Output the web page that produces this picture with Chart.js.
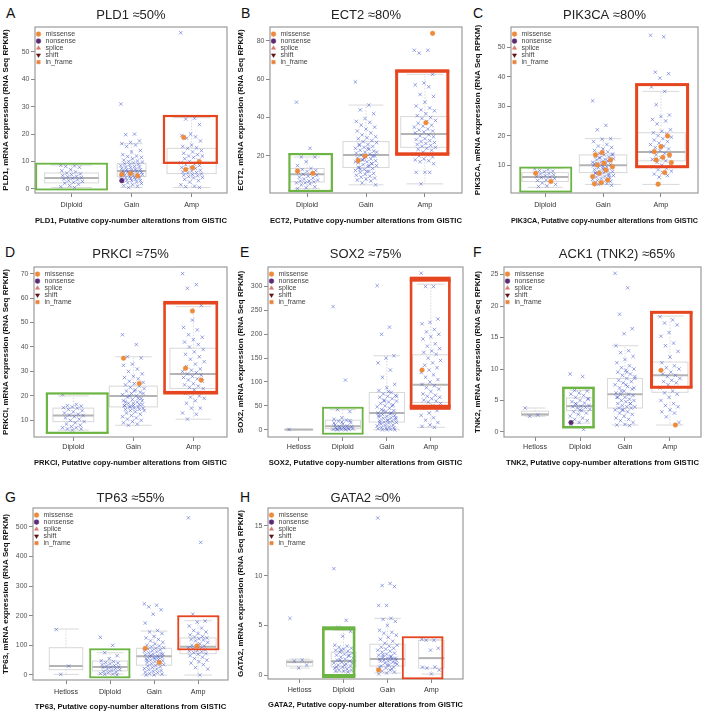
<!DOCTYPE html>
<html>
<head>
<meta charset="utf-8">
<title>mRNA expression by putative copy-number alteration</title>
<script src="https://cdn.jsdelivr.net/npm/chart.js@4.4.1/dist/chart.umd.min.js"></script>
<style>
  html, body { margin: 0; padding: 0; background: #fff; }
  body { position: relative; width: 710px; height: 718px; overflow: hidden; font-family: "Liberation Sans", Arial, sans-serif; }
  canvas { position: absolute; }
  .tag { position: absolute; font-size: 14px; line-height: 14px; color: #111; }
</style>
</head>
<body>
<div class="tag" style="left:6px;top:6px">A</div>
<div class="tag" style="left:241px;top:6px">B</div>
<div class="tag" style="left:473px;top:6px">C</div>
<div class="tag" style="left:5px;top:245px">D</div>
<div class="tag" style="left:240px;top:245px">E</div>
<div class="tag" style="left:473px;top:245px">F</div>
<div class="tag" style="left:5px;top:490px">G</div>
<div class="tag" style="left:240px;top:490px">H</div>
<canvas id="cA"></canvas>
<canvas id="cB"></canvas>
<canvas id="cC"></canvas>
<canvas id="cD"></canvas>
<canvas id="cE"></canvas>
<canvas id="cF"></canvas>
<canvas id="cG"></canvas>
<canvas id="cH"></canvas>
<script>
var FONT = "'Liberation Sans', Arial, Helvetica, sans-serif";
Chart.defaults.font.family = FONT;
Chart.defaults.animation = false;

var cats3 = ['Diploid', 'Gain', 'Amp'];
var cats4 = ['Hetloss', 'Diploid', 'Gain', 'Amp'];
var mutTypes = ['missense', 'nonsense', 'splice', 'shift', 'in_frame'];

// A - PLD1
var pld1Vals = [
  [8.6, 8.4, 8.2, 7.9, 7.0, 6.6, 6.2, 5.8, 5.5, 5.2, 4.9, 4.6, 4.4, 4.1, 3.9, 3.6, 3.3, 3.0, 2.7, 2.4, 2.1, 1.7, 1.2, 0.8, 0.5],
  [31, 20, 19.8, 17.5, 17, 16.5, 16, 15.5, 14, 13.5, 12.5, 12, 11.8, 11.5, 11, 10.5, 10.2, 10, 9.8, 9.5, 9.2, 9, 8.8, 8.5, 8.2, 8, 8, 7.8, 7.5, 7.2, 7, 7, 6.8, 6.5, 6.5, 6.2, 6, 6, 5.8, 5.5, 5.5, 5.2, 5, 5, 4.8, 4.5, 4.5, 4.2, 4, 4, 3.8, 3.5, 3.5, 3.2, 3, 3, 2.8, 2.5, 2.2, 2, 1.5, 1.2, 1, 0.5],
  [57, 25.8, 25.5, 23.5, 20, 19.5, 19, 18.5, 17.5, 16, 15.5, 15, 14.8, 14, 13.5, 13, 12.5, 12, 12, 11.5, 11, 10.5, 10, 9.5, 9, 8.8, 8.5, 8, 7.8, 7.5, 7, 6.8, 6.5, 6.2, 6, 5.8, 5.5, 5.2, 5, 4.8, 4.5, 4.2, 4, 3.5, 3, 2.5, 1.5, 1, 0.8, 0.5]
];
var pld1Boxes = [[0.5, 2.2, 4.0, 5.8, 8.7], [0.5, 4.5, 6.5, 9.3, 16.5], [0.5, 5.6, 9.5, 14.8, 26]];
var pld1Ticks = [0, 10, 20, 30, 40, 50];
var pld1Mis = [[1, 5.3], [1, 4.8], [1, 5.6], [2, 18.8], [2, 9.9], [2, 7.7], [2, 7.1]];
var pld1Non = [[1, 3.0]];
var pld1Hi = [[0, -0.2, 9.2], [2, 9.5, 26.6]];

// B - ECT2
var ect2Vals = [
  [48, 24, 19.5, 19.5, 17, 15, 13.5, 13, 12.5, 12, 11.5, 11, 10.5, 10, 9.5, 9, 8.5, 8, 7.5, 7, 7, 6.5, 6, 6, 5.5, 5, 4, 3.5, 3],
  [58.5, 46.5, 44, 42, 39.5, 38, 37.5, 36, 35, 34, 33, 32, 31, 30, 29.5, 29, 28, 27.5, 27, 26, 25.5, 25, 24.5, 24, 23.5, 23, 22.5, 22, 21.5, 21, 20.5, 20, 19.5, 19, 18.5, 18, 17.5, 17, 16.5, 16, 15.5, 15, 14.5, 14, 13.5, 13, 12.5, 12, 11.5, 11, 10.5, 10, 9.5, 9, 8.5, 8, 7.5, 7, 6, 5, 12, 14, 16, 18, 22, 24, 26, 20, 19, 17, 15, 13],
  [75, 75, 73.5, 62.5, 58, 57, 56, 52, 51, 48, 46, 45, 44, 43.5, 42, 41, 40, 39.5, 38.5, 38, 37, 36, 35.5, 35, 34, 33.5, 33, 32.5, 32, 31, 30.5, 30, 29, 28.5, 28, 27.5, 27, 26.5, 26, 25.5, 25, 24.5, 24, 23.5, 23, 22, 21, 20.5, 20, 19.5, 18.5, 18, 17.5, 17, 16, 11.5, 11.5, 11.5, 5.5]
];
var ect2Boxes = [[3, 6.5, 10.5, 13.5, 19.5], [5, 14, 20.5, 27.5, 46.5], [5.5, 24.5, 31.5, 40.5, 62.5]];
var ect2Ticks = [20, 40, 60, 80];
var ect2Mis = [[0, 12.2], [0, 11], [1, 20], [1, 17.6], [2, 83.8], [2, 37.3]];
var ect2Non = [];
var ect2Hi = [[0, 1.8, 21], [2, 21, 64.2]];

// C - PIK3CA
var pik3caVals = [
  [8.8, 8.5, 8.2, 8, 7.8, 7.5, 7.2, 7, 6.8, 6.5, 6.2, 6, 5.8, 5.5, 5, 4.8, 4.5, 4, 3.5, 3, 2.8],
  [31.8, 23.5, 22, 19, 18.8, 18, 17, 16.5, 16, 15.5, 15, 14.5, 14, 13.8, 13.5, 13, 12.8, 12.5, 12.2, 12, 11.8, 11.5, 11.2, 11, 10.8, 10.5, 10.2, 10, 9.8, 9.5, 9.2, 9, 8.8, 8.5, 8.2, 8, 7.8, 7.5, 7.2, 7, 6.8, 6.5, 6.2, 6, 5.8, 5.5, 5.2, 5, 4.8, 4.5, 4.2, 4, 3.8, 3.5, 3.2, 9.5, 10.5, 11.5, 12.5, 13.5, 8.5, 7.5, 6.5],
  [54, 53.5, 41.5, 41, 39.5, 36.5, 35, 30.5, 27, 26.5, 25.5, 25, 24, 22, 21.5, 21, 20.5, 20, 19.5, 19, 18.5, 18, 17.5, 17, 16.5, 16, 15.5, 15, 14.5, 14, 13.5, 13, 12.5, 12, 11.5, 11, 10.5, 10, 9.5, 9, 8.5, 8, 7.5, 7, 6.5, 6]
];
var pik3caBoxes = [[2.5, 4.5, 6, 7.5, 9], [3.5, 7.5, 10, 13.5, 19], [3.5, 11.5, 14.5, 21, 35]];
var pik3caTicks = [10, 20, 30, 40, 50];
var pik3caMis = [[0, 7.3], [0, 4.5], [1, 14.3], [1, 13.5], [1, 11.8], [1, 10.7], [1, 10.1], [1, 9.5], [1, 8.4], [1, 7.3], [1, 6.2], [1, 5.0], [1, 4.1], [1, 3.7],
  [2, 19.9], [2, 16.3], [2, 14.6], [2, 13.5], [2, 12.7], [2, 11.8], [2, 10.9], [2, 7.5], [2, 3.6]];
var pik3caNon = [];
var pik3caHi = [[0, 1.1, 9.2], [2, 9.5, 37.3]];

// D - PRKCI
var prkciVals = [
  [20.5, 16.5, 16, 15.8, 15.5, 15.2, 15, 14.5, 14, 13.5, 13, 12.5, 12.2, 12, 11.5, 11, 10.5, 10, 9.5, 9, 8.5, 8, 7.5, 7, 7, 6.5, 6.5, 6],
  [45, 41, 36, 35.5, 33, 32.5, 31, 30, 29, 28, 27.5, 27, 26, 25.5, 25, 24.5, 24, 23.5, 23, 22.5, 22, 21.5, 21, 20.5, 20, 19.5, 19, 18.5, 18, 17.5, 17, 16.5, 16, 16, 15.5, 15.5, 15, 15, 14.5, 14.5, 14, 14, 13.5, 13, 12.5, 12, 11.5, 11, 10.5, 10, 9.5, 9, 8.5, 8, 18, 17, 16, 19, 20, 21, 22, 17.5, 16.5, 15.5],
  [70, 65.5, 64, 57, 51, 48, 47, 45, 44, 43, 42, 41, 40, 39, 38, 37, 36, 35, 34, 33, 32, 31, 30.5, 30, 29.5, 29, 28.5, 28, 27.5, 27, 26.5, 26, 25, 24.5, 24, 23.5, 23, 22.5, 21, 20, 19.5, 19, 18, 17, 15, 15, 13, 12.5, 10.5]
];
var prkciBoxes = [[6, 9.5, 12, 15, 20], [8, 15.5, 20, 24, 36], [10.5, 23, 29, 39.5, 56.5]];
var prkciTicks = [10, 20, 30, 40, 50, 60, 70];
var prkciMis = [[1, 35.4], [1, 25.1], [2, 54.7], [2, 31.3], [2, 26.5]];
var prkciNon = [];
var prkciHi = [[0, 4.9, 21], [2, 21.3, 58.1]];

// E - SOX2
var sox2Vals = [
  [0.5],
  [258, 104, 42, 38, 25, 22, 20, 18, 15, 12, 10, 8, 7, 6, 5, 4, 3, 3, 2, 2, 1, 1, 0.5, 0.5, 0, 0, 19, 16, 14],
  [302, 215, 200, 155, 150, 140, 125, 110, 95, 88, 82, 78, 75, 72, 70, 68, 65, 62, 60, 58, 55, 52, 50, 48, 45, 42, 40, 38, 35, 33, 32, 30, 28, 27, 25, 24, 22, 20, 19, 18, 16, 15, 14, 12, 10, 9, 8, 6, 5, 4, 3, 2, 1, 0, 0, 0, 30, 35, 40, 25, 20, 15, 50, 60, 70, 80],
  [328, 300, 300, 232, 225, 222, 210, 205, 200, 195, 190, 180, 175, 170, 165, 162, 158, 150, 145, 140, 135, 130, 125, 120, 115, 110, 105, 100, 95, 92, 88, 85, 80, 75, 72, 70, 68, 65, 62, 60, 58, 55, 50, 45, 40, 35, 30, 25, 20, 15, 10, 7, 5]
];
var sox2Boxes = [[0, 0, 0.3, 0.6, 0.6], [0, 2, 7, 20, 42], [0, 16, 35, 78, 155], [5, 57, 94, 157, 305]];
var sox2Ticks = [0, 50, 100, 150, 200, 250, 300];
var sox2Mis = [[3, 125]];
var sox2Non = [];
var sox2Hi = [[1, -8.4, 46], [3, 47, 315.5]];

// F - ACK1 (TNK2)
var tnk2Vals = [
  [3.8, 2.7, 2.5],
  [9.2, 8.8, 6.6, 6.5, 6.2, 6, 5.8, 5.5, 5.3, 5, 4.8, 4.6, 4.4, 4.2, 4.1, 4, 3.9, 3.8, 3.6, 3.4, 3.2, 3, 2.8, 2.5, 2.2, 2, 1.8, 1.5, 1.2, 0.4, 4.5, 5.2, 3.5],
  [25.2, 22.9, 18.7, 16.4, 15.6, 13.7, 12.9, 12.6, 12, 11.5, 11, 10.5, 10.2, 10, 9.8, 9.5, 9.2, 9, 8.8, 8.5, 8.2, 8, 7.8, 7.5, 7.2, 7, 6.8, 6.5, 6.2, 6, 6, 5.8, 5.5, 5.5, 5.2, 5, 5, 4.8, 4.5, 4.5, 4.2, 4, 4, 3.8, 3.8, 3.5, 3.5, 3.2, 3, 2.8, 2.5, 2.2, 2, 1.8, 1.5, 1.2, 1.1, 1, 6.5, 7, 7.5, 5.5, 4.5, 3.5, 8.5, 9.5],
  [18.3, 17.8, 17.3, 17, 15.8, 15.2, 14.1, 13.7, 12.8, 11.9, 11, 10.5, 10.2, 10, 9.5, 9.2, 9, 8.8, 8.5, 8.2, 8, 7.8, 7.5, 7, 6.5, 6.2, 6, 5.5, 5, 4.5, 4.2, 4, 3.5, 3.2, 3, 2.4, 1.5]
];
var tnk2Boxes = [[2.5, 2.6, 2.8, 3.3, 3.8], [1.4, 3.4, 4.1, 5.4, 6.6], [1.1, 3.8, 6, 8.5, 13.7], [1.1, 6.3, 9, 11.1, 18.4]];
var tnk2Ticks = [0, 5, 10, 15, 20, 25];
var tnk2Mis = [[3, 9.8], [3, 1.1]];
var tnk2Non = [[1, 1.5]];
var tnk2Hi = [[1, 0.75, 7.0], [3, 7.1, 19.0]];

// G - TP63
var tp63Vals = [
  [153, 30, 2],
  [127, 100, 75, 65, 55, 48, 45, 42, 40, 38, 35, 32, 30, 28, 26, 25, 22, 20, 18, 15, 12, 10, 8, 5, 3, 2, 0],
  [240, 235, 230, 220, 205, 175, 150, 145, 140, 130, 125, 120, 115, 110, 105, 100, 98, 95, 92, 90, 88, 85, 82, 80, 78, 75, 72, 70, 68, 65, 62, 60, 58, 55, 52, 50, 48, 45, 42, 40, 38, 35, 32, 30, 28, 25, 22, 20, 18, 15, 12, 10, 8, 5, 3, 0, 0, 60, 65, 70, 55, 50, 45],
  [530, 447, 205, 182, 178, 165, 158, 150, 145, 140, 135, 130, 128, 125, 122, 120, 118, 115, 110, 105, 100, 98, 95, 92, 90, 88, 85, 82, 80, 78, 75, 72, 70, 65, 60, 55, 50, 45, 40, 35, 25, 20, 0]
];
var tp63Boxes = [[2, 18, 30, 92, 155], [3, 14, 27, 47, 75], [0, 33, 63, 90, 148], [0, 72, 95, 125, 183]];
var tp63Ticks = [0, 100, 200, 300, 400, 500];
var tp63Mis = [[2, 90], [2, 42], [3, 98]];
var tp63Non = [];
var tp63Hi = [[1, -7.8, 86.6], [3, 86.6, 198]];

// H - GATA2
var gata2Vals = [
  [5.7, 1.5, 1.4, 1.0, 0.7],
  [10.7, 5.5, 4.8, 4.4, 3.9, 3.0, 2.9, 2.8, 2.7, 2.6, 2.5, 2.4, 2.3, 2.2, 2.1, 2.0, 1.9, 1.8, 1.7, 1.6, 1.5, 1.4, 1.3, 1.2, 1.1, 1.0, 0.9, 0.8, 0.7, 0.6, 0.5, 0.5, 0.4, 0.4, 0.3, 1.5, 1.2, 1.0, 0.8, 2.0, 2.5],
  [15.8, 9.2, 9.0, 8.9, 7.0, 7.0, 5.7, 5.6, 5.4, 5.0, 4.5, 4.3, 4.2, 4.0, 3.8, 3.6, 3.4, 3.2, 3.0, 2.9, 2.8, 2.7, 2.6, 2.5, 2.4, 2.3, 2.2, 2.1, 2.0, 1.9, 1.8, 1.7, 1.7, 1.6, 1.6, 1.5, 1.5, 1.4, 1.4, 1.3, 1.2, 1.1, 1.0, 0.9, 0.8, 0.7, 0.6, 0.5, 0.4, 0.3, 0.2, 0.1, 1.8, 2.0, 1.2, 1.0, 0.8, 0.6],
  [3.6, 3.5, 3.5, 2.7, 2.5, 0.8, 0.8, 0.7, 0.5, 0.1]
];
var gata2Boxes = [[0.7, 0.9, 1.3, 1.5, 1.6], [0.3, 0.8, 1.4, 2.3, 4.5], [0.2, 0.9, 1.6, 3.1, 5.7], [0.1, 0.7, 1.7, 3.5, 3.6]];
var gata2Ticks = [0, 5, 10, 15];
var gata2Mis = [[2, 0.5]];
var gata2Non = [];
var gata2Hi = [[1, -0.1, 4.7], [3, -0.33, 3.8]];

// marker styles
var mutStyle = [
  { pointStyle: 'circle', color: '#ee8b3b', rotation: 0 },
  { pointStyle: 'circle', color: '#5b2b74', rotation: 0 },
  { pointStyle: 'triangle', color: '#d9786c', rotation: 0 },
  { pointStyle: 'triangle', color: '#5e1212', rotation: 180 },
  { pointStyle: 'rect', color: '#e8843c', rotation: 0 }
];
var GREEN = '#6cb443', RED = '#e6461f';

// layout of each panel (absolute page pixels)
var panels = [
  { id: 'A', gene: 'PLD1', title: 'PLD1 \u224850%', cats: cats3, vals: pld1Vals, boxes: pld1Boxes, ticks: pld1Ticks, mis: pld1Mis, non: pld1Non, hi: pld1Hi,
    y: [-1.5, 59.1], x: [-0.61, 2.59], boxW: [0.45, 0.24, 0.41], spread: 0.36,
    hiX: [[-0.59, 0.59], [-0.46, 0.42]], hiLw: [[1.8, 1.8], [2.2, 2.2]],
    box: [0, 0, 235, 235], frame: [35, 27, 227, 193], titleY: 15, yTitleX: 6, catY: 205, xTitleY: 221 },
  { id: 'B', gene: 'ECT2', title: 'ECT2 \u224880%', cats: cats3, vals: ect2Vals, boxes: ect2Boxes, ticks: ect2Ticks, mis: ect2Mis, non: ect2Non, hi: ect2Hi,
    y: [0.75, 87.1], x: [-0.63, 2.63], boxW: [0.29, 0.39, 0.41], spread: 0.36,
    hiX: [[-0.3, 0.42], [-0.48, 0.39]], hiLw: [[2.2, 2.2], [3, 3.5]],
    box: [235, 0, 235, 235], frame: [270, 27, 462, 193], titleY: 15, yTitleX: 241, catY: 205, xTitleY: 221 },
  { id: 'C', gene: 'PIK3CA', title: 'PIK3CA \u224880%', cats: cats3, vals: pik3caVals, boxes: pik3caBoxes, ticks: pik3caTicks, mis: pik3caMis, non: pik3caNon, hi: pik3caHi,
    y: [0.6, 56.8], x: [-0.59, 2.64], boxW: [0.4, 0.41, 0.42], spread: 0.36,
    hiX: [[-0.43, 0.45], [-0.42, 0.46]], hiLw: [[1.8, 1.8], [3, 3]],
    box: [470, 0, 240, 235], frame: [511, 27, 698, 193], titleY: 15, yTitleX: 478, catY: 205, xTitleY: 221 },
  { id: 'D', gene: 'PRKCI', title: 'PRKCI \u224875%', cats: cats3, vals: prkciVals, boxes: prkciBoxes, ticks: prkciTicks, mis: prkciMis, non: prkciNon, hi: prkciHi,
    y: [3.2, 72.7], x: [-0.655, 2.56], boxW: [0.34, 0.4, 0.39], spread: 0.36,
    hiX: [[-0.44, 0.57], [-0.48, 0.39]], hiLw: [[2.2, 2.2], [2.6, 3.6]],
    box: [0, 235, 235, 240], frame: [34, 267, 227, 437], titleY: 254, yTitleX: 6, catY: 447, xTitleY: 463 },
  { id: 'E', gene: 'SOX2', title: 'SOX2 \u224875%', cats: cats4, vals: sox2Vals, boxes: sox2Boxes, ticks: sox2Ticks, mis: sox2Mis, non: sox2Non, hi: sox2Hi,
    y: [-15.3, 341], x: [-0.7, 3.73], boxW: [0.32, 0.4, 0.4, 0.42], spread: 0.44,
    hiX: [[-0.45, 0.45], [-0.45, 0.42]], hiLw: [[1.8, 1.8], [2.6, 5]],
    box: [235, 235, 235, 240], frame: [268, 267, 463, 437], titleY: 254, yTitleX: 241, catY: 447, xTitleY: 463 },
  { id: 'F', gene: 'TNK2', title: '        ACK1 (TNK2) \u224865%', cats: cats4, vals: tnk2Vals, boxes: tnk2Boxes, ticks: tnk2Ticks, mis: tnk2Mis, non: tnk2Non, hi: tnk2Hi,
    y: [-0.8, 26.2], x: [-0.69, 3.69], boxW: [0.3, 0.3, 0.39, 0.4], spread: 0.44,
    hiX: [[-0.37, 0.3], [-0.41, 0.47]], hiLw: [[2.5, 2.5], [3, 3]],
    box: [470, 235, 240, 240], frame: [504, 267, 701, 437], titleY: 254, yTitleX: 478, catY: 447, xTitleY: 463 },
  { id: 'G', gene: 'TP63', title: 'TP63 \u224855%', cats: cats4, vals: tp63Vals, boxes: tp63Boxes, ticks: tp63Ticks, mis: tp63Mis, non: tp63Non, hi: tp63Hi,
    y: [-16.9, 563], x: [-0.75, 3.68], boxW: [0.38, 0.4, 0.4, 0.41], spread: 0.44,
    hiX: [[-0.45, 0.44], [-0.45, 0.46]], hiLw: [[1.8, 1.8], [1.8, 1.8]],
    box: [0, 475, 235, 243], frame: [33, 508, 228, 680], titleY: 498, yTitleX: 6, catY: 692, xTitleY: 707 },
  { id: 'H', gene: 'GATA2', title: 'GATA2 \u22480%', cats: cats4, vals: gata2Vals, boxes: gata2Boxes, ticks: gata2Ticks, mis: gata2Mis, non: gata2Non, hi: gata2Hi,
    y: [-0.4, 16.8], x: [-0.72, 3.72], boxW: [0.3, 0.28, 0.4, 0.29], spread: 0.44,
    hiX: [[-0.46, 0.24], [-0.65, 0.25]], hiLw: [[2.6, 4], [1.8, 1.8]],
    box: [235, 475, 235, 243], frame: [268, 508, 463, 679], titleY: 498, yTitleX: 241, catY: 690, xTitleY: 705 }
];

// spread points sideways inside their column
function jitter(i) {
  return ((i * 37) % 23) / 22 - 0.5;
}

function panelPlugin(p) {
  return {
    id: 'panel' + p.id,
    beforeDatasetsDraw: function (chart) {
      var ctx = chart.ctx, a = chart.chartArea, xs = chart.scales.x, ys = chart.scales.y;
      ctx.save();
      ctx.strokeStyle = '#9b9b9b';
      ctx.lineWidth = 1.2;
      ctx.strokeRect(a.left, a.top, a.right - a.left, a.bottom - a.top);
      p.boxes.forEach(function (b, c) {
        var hw = p.boxW[c];
        var x0 = xs.getPixelForValue(c - hw), x1 = xs.getPixelForValue(c + hw), xm = xs.getPixelForValue(c);
        var cap = (x1 - x0) * 0.38;
        var lo = ys.getPixelForValue(b[0]), q1 = ys.getPixelForValue(b[1]), md = ys.getPixelForValue(b[2]),
            q3 = ys.getPixelForValue(b[3]), hi = ys.getPixelForValue(b[4]);
        ctx.strokeStyle = '#cfcfcf';
        ctx.lineWidth = 0.8;
        ctx.setLineDash([1.5, 1.5]);
        ctx.beginPath();
        ctx.moveTo(xm, q1); ctx.lineTo(xm, lo);
        ctx.moveTo(xm, q3); ctx.lineTo(xm, hi);
        ctx.stroke();
        ctx.setLineDash([]);
        ctx.beginPath();
        ctx.moveTo(xm - cap, lo); ctx.lineTo(xm + cap, lo);
        ctx.moveTo(xm - cap, hi); ctx.lineTo(xm + cap, hi);
        ctx.stroke();
        ctx.strokeStyle = '#d8d8d8';
        ctx.lineWidth = 1;
        ctx.strokeRect(x0, q3, x1 - x0, q1 - q3);
        ctx.strokeStyle = '#b4b4b4';
        ctx.lineWidth = 2;
        ctx.beginPath();
        ctx.moveTo(x0, md); ctx.lineTo(x1, md);
        ctx.stroke();
      });
      ctx.restore();
    },
    afterDatasetsDraw: function (chart) {
      var ctx = chart.ctx, xs = chart.scales.x, ys = chart.scales.y;
      ctx.save();
      p.hi.forEach(function (h, k) {
        var L = xs.getPixelForValue(h[0] + p.hiX[k][0]), R = xs.getPixelForValue(h[0] + p.hiX[k][1]);
        var T = ys.getPixelForValue(h[2]), B = ys.getPixelForValue(h[1]);
        var sw = p.hiLw[k][0], tb = p.hiLw[k][1];
        ctx.fillStyle = k === 0 ? GREEN : RED;
        ctx.fillRect(L - sw / 2, T - tb / 2, R - L + sw, tb);
        ctx.fillRect(L - sw / 2, B - tb / 2, R - L + sw, tb);
        ctx.fillRect(L - sw / 2, T, sw, B - T);
        ctx.fillRect(R - sw / 2, T, sw, B - T);
      });
      ctx.restore();
    }
  };
}

function makePanel(p) {
  var L = p.box[0], T = p.box[1], W = p.box[2], H = p.box[3];
  var fl = p.frame[0] - L, ft = p.frame[1] - T, fr = p.frame[2] - L, fb = p.frame[3] - T;
  var titleLH = 13 * 1.2, xtLH = 7.7 * 1.2, catLH = 7.2 * 1.2, ytLH = 8 * 1.2;
  var padTop = p.titleY - T - titleLH / 2;
  var xH = p.xTitleY - T - fb + 6;

  var cv = document.getElementById('c' + p.id);
  cv.width = W;
  cv.height = H;
  cv.style.left = L + 'px';
  cv.style.top = T + 'px';

  var datasets = mutTypes.map(function (name, k) {
    var src = k === 0 ? p.mis : (k === 1 ? p.non : []);
    return {
      label: name,
      data: src.map(function (m, i) { return { x: m[0] + jitter(i * 11 + 5) * p.spread, y: m[1] }; }),
      pointStyle: mutStyle[k].pointStyle,
      pointRotation: mutStyle[k].rotation,
      backgroundColor: mutStyle[k].color,
      borderColor: mutStyle[k].color,
      borderWidth: 0.5,
      pointRadius: 2.3
    };
  });
  var pts = [];
  p.vals.forEach(function (arr, c) {
    arr.forEach(function (v, i) { pts.push({ x: c + jitter(i) * p.spread, y: v }); });
  });
  datasets.push({
    label: 'samples',
    data: pts,
    pointStyle: 'crossRot',
    pointRadius: 2.4,
    borderWidth: 0.9,
    borderColor: 'rgba(72,92,205,0.62)',
    backgroundColor: 'rgba(0,0,0,0)'
  });

  new Chart(cv, {
    type: 'scatter',
    data: { datasets: datasets },
    options: {
      responsive: false,
      maintainAspectRatio: false,
      animation: false,
      events: [],
      layout: { padding: { left: 0, right: W - fr, top: padTop, bottom: H - fb - xH } },
      plugins: {
        title: {
          display: true, text: p.title, fullSize: false, color: '#222',
          font: { size: 13, weight: 'normal' },
          padding: { top: 0, bottom: ft - padTop - titleLH }
        },
        legend: {
          // a vertical legend box starts at the canvas top, so its (empty) title pushes the items down into the frame
          position: 'chartArea', align: 'start',
          title: { display: true, text: '', padding: { top: ft, bottom: 0 }, font: { size: 3 } },
          labels: {
            usePointStyle: true, boxWidth: 7, boxHeight: 3.4, padding: 0,
            color: '#444', font: { size: 7 },
            filter: function (item) { return item.datasetIndex < mutTypes.length; }
          }
        },
        tooltip: { enabled: false }
      },
      scales: {
        x: {
          type: 'linear', min: p.x[0], max: p.x[1],
          grid: { display: true, drawOnChartArea: false, drawTicks: true, tickLength: 4, color: '#888' },
          border: { display: false },
          afterBuildTicks: function (s) { s.ticks = p.cats.map(function (c, i) { return { value: i }; }); },
          afterFit: function (s) { s.height = xH; },
          ticks: {
            autoSkip: false, maxRotation: 0, color: '#333', font: { size: 7.2 },
            padding: p.catY - T - fb - catLH / 2 - 4,
            callback: function (v) { return p.cats[v]; }
          },
          title: {
            display: true, text: p.gene + ', Putative copy-number alterations from GISTIC',
            color: '#111', font: { size: 7.7, weight: 'bold' },
            padding: { top: 0, bottom: 6 - xtLH / 2 }
          }
        },
        y: {
          type: 'linear', min: p.y[0], max: p.y[1],
          grid: { display: true, drawOnChartArea: false, drawTicks: true, tickLength: 4, color: '#888' },
          border: { display: false },
          afterBuildTicks: function (s) { s.ticks = p.ticks.map(function (v) { return { value: v }; }); },
          afterFit: function (s) { s.width = fl; },
          ticks: { padding: 1.5, color: '#555', font: { size: 7 } },
          title: {
            display: true, text: p.gene + ', mRNA expression (RNA Seq RPKM)',
            color: '#111', font: { size: 8, weight: 'bold' },
            padding: { top: p.yTitleX - L - ytLH / 2, bottom: 0 }
          }
        }
      }
    },
    plugins: [panelPlugin(p)]
  });
}

panels.forEach(makePanel);
</script>
</body>
</html>
